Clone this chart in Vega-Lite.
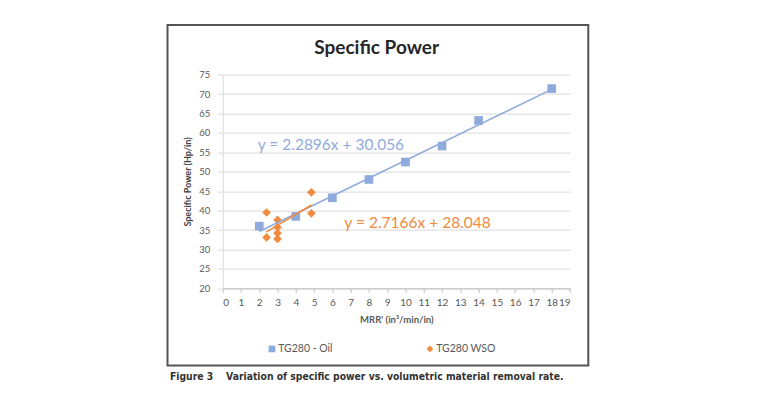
{
 "$schema": "https://vega.github.io/schema/vega-lite/v6.json",
 "autosize": {"type": "none"},
 "width": 347.3,
 "height": 213.7,
 "padding": {"left": 222.7, "top": 74.6, "right": 190, "bottom": 121.7},
 "background": "white",
 "config": {"view": {"stroke": null}, "font": "Lato",
  "axisX": {"grid": false, "domainColor": "#BFBFBF", "tickColor": "#BFBFBF", "tickSize": 4, "labelOverlap": false,
      "labelFont": "Lato", "labelFontSize": 10, "labelColor": "#595959", "labelPadding": 5,
      "titleFont": "Lato", "titleFontSize": 9.5, "titleFontWeight": "bold", "titleColor": "#595959", "titlePadding": 7},
  "axisY": {"grid": true, "gridColor": "#D9D9D9", "domainColor": "#D9D9D9", "tickColor": "#D9D9D9", "tickSize": 5, "labelOverlap": false,
      "labelFont": "Lato", "labelFontSize": 9.5, "labelColor": "#595959", "labelPadding": 8,
      "titleFont": "Lato", "titleFontSize": 9, "titleFontWeight": "bold", "titleColor": "#404040", "titlePadding": 6}
 },
 "datasets": {
  "points": [
   {"series": "TG280 - Oil", "mrr": 2, "power": 36.0},
   {"series": "TG280 - Oil", "mrr": 4, "power": 38.5},
   {"series": "TG280 - Oil", "mrr": 6, "power": 43.3},
   {"series": "TG280 - Oil", "mrr": 8, "power": 48.0},
   {"series": "TG280 - Oil", "mrr": 10, "power": 52.5},
   {"series": "TG280 - Oil", "mrr": 12, "power": 56.6},
   {"series": "TG280 - Oil", "mrr": 14, "power": 63.2},
   {"series": "TG280 - Oil", "mrr": 18, "power": 71.4},
   {"series": "TG280 WSO", "mrr": 2.4, "power": 39.5},
   {"series": "TG280 WSO", "mrr": 2.4, "power": 33.1},
   {"series": "TG280 WSO", "mrr": 3, "power": 37.6},
   {"series": "TG280 WSO", "mrr": 3, "power": 35.7},
   {"series": "TG280 WSO", "mrr": 3, "power": 34.2},
   {"series": "TG280 WSO", "mrr": 3, "power": 32.7},
   {"series": "TG280 WSO", "mrr": 4.85, "power": 44.7},
   {"series": "TG280 WSO", "mrr": 4.85, "power": 39.3}
  ]
 },
 "layer": [
  {
   "data": {"name": "points"},
   "mark": {"type": "point", "filled": true, "opacity": 1, "size": 75},
   "encoding": {
    "x": {"field": "mrr", "type": "quantitative",
     "scale": {"domain": [0, 19], "nice": false, "zero": false},
     "axis": {"title": "MRR' (in³/min/in)", "values": [0,1,2,3,4,5,6,7,8,9,10,11,12,13,14,15,16,17,18,19], "tickCount": 20}},
    "y": {"field": "power", "type": "quantitative",
     "scale": {"domain": [20, 75], "nice": false, "zero": false},
     "axis": {"title": "Specific Power (Hp/in)", "values": [20,25,30,35,40,45,50,55,60,65,70,75], "tickCount": 12}},
    "color": {"field": "series", "type": "nominal",
     "scale": {"domain": ["TG280 - Oil", "TG280 WSO"], "range": ["#8FAADC", "#F08A3C"]},
     "legend": {"orient": "none", "legendX": 44, "legendY": 269, "direction": "horizontal", "title": null,
      "columnPadding": 92, "symbolSize": 45, "labelFont": "Lato", "labelFontSize": 10.5, "labelColor": "#595959",
      "labelOffset": 1, "padding": 0, "symbolStrokeWidth": 0}},
    "shape": {"field": "series", "type": "nominal",
     "scale": {"domain": ["TG280 - Oil", "TG280 WSO"], "range": ["square", "diamond"]},
     "legend": {"orient": "none", "legendX": 44, "legendY": 269, "direction": "horizontal", "title": null,
      "columnPadding": 92, "symbolSize": 45, "labelFont": "Lato", "labelFontSize": 10.5, "labelColor": "#595959",
      "labelOffset": 1, "padding": 0, "symbolStrokeWidth": 0}}
   }
  },
  {
   "data": {"name": "points"},
   "transform": [
    {"filter": "datum.series === 'TG280 - Oil'"},
    {"regression": "power", "on": "mrr"}
   ],
   "mark": {"type": "line", "color": "#8FAADC", "strokeWidth": 1.6},
   "encoding": {
    "x": {"field": "mrr", "type": "quantitative", "axis": {"title": "MRR' (in³/min/in)", "values": [0,1,2,3,4,5,6,7,8,9,10,11,12,13,14,15,16,17,18,19], "tickCount": 20}},
    "y": {"field": "power", "type": "quantitative", "axis": {"title": "Specific Power (Hp/in)", "values": [20,25,30,35,40,45,50,55,60,65,70,75], "tickCount": 12}}
   }
  },
  {
   "data": {"name": "points"},
   "transform": [
    {"filter": "datum.series === 'TG280 WSO'"},
    {"regression": "power", "on": "mrr"}
   ],
   "mark": {"type": "line", "color": "#F08A3C", "strokeWidth": 1.6},
   "encoding": {
    "x": {"field": "mrr", "type": "quantitative", "axis": {"title": "MRR' (in³/min/in)", "values": [0,1,2,3,4,5,6,7,8,9,10,11,12,13,14,15,16,17,18,19], "tickCount": 20}},
    "y": {"field": "power", "type": "quantitative", "axis": {"title": "Specific Power (Hp/in)", "values": [20,25,30,35,40,45,50,55,60,65,70,75], "tickCount": 12}}
   }
  },
  {
   "data": {"values": [{}]},
   "mark": {"type": "rect", "fill": null, "stroke": "#555555", "strokeWidth": 2},
   "encoding": {
    "x": {"datum": -3.02, "type": "quantitative", "axis": {"title": "MRR' (in³/min/in)", "values": [0,1,2,3,4,5,6,7,8,9,10,11,12,13,14,15,16,17,18,19], "tickCount": 20}},
    "x2": {"datum": 20.0},
    "y": {"datum": 87.76, "type": "quantitative", "axis": {"title": "Specific Power (Hp/in)", "values": [20,25,30,35,40,45,50,55,60,65,70,75], "tickCount": 12}},
    "y2": {"datum": 0.13}
   }
  },
  {
   "data": {"values": [{"label": "Specific Power"}]},
   "mark": {"type": "text", "font": "Lato", "fontSize": 19, "fontWeight": "bold", "color": "#262626", "align": "center", "baseline": "middle"},
   "encoding": {
    "x": {"datum": 8.42, "type": "quantitative", "axis": {"title": "MRR' (in³/min/in)", "values": [0,1,2,3,4,5,6,7,8,9,10,11,12,13,14,15,16,17,18,19], "tickCount": 20}},
    "y": {"datum": 81.84, "type": "quantitative", "axis": {"title": "Specific Power (Hp/in)", "values": [20,25,30,35,40,45,50,55,60,65,70,75], "tickCount": 12}},
    "text": {"field": "label"}
   }
  },
  {
   "data": {"values": [{"label": "y = 2.2896x + 30.056"}]},
   "mark": {"type": "text", "font": "Lato", "fontSize": 15.5, "color": "#8FAADC", "align": "center", "baseline": "middle"},
   "encoding": {
    "x": {"datum": 5.92, "type": "quantitative", "axis": {"title": "MRR' (in³/min/in)", "values": [0,1,2,3,4,5,6,7,8,9,10,11,12,13,14,15,16,17,18,19], "tickCount": 20}},
    "y": {"datum": 56.9, "type": "quantitative", "axis": {"title": "Specific Power (Hp/in)", "values": [20,25,30,35,40,45,50,55,60,65,70,75], "tickCount": 12}},
    "text": {"field": "label"}
   }
  },
  {
   "data": {"values": [{"label": "y = 2.7166x + 28.048"}]},
   "mark": {"type": "text", "font": "Lato", "fontSize": 15.5, "color": "#F08A3C", "align": "center", "baseline": "middle"},
   "encoding": {
    "x": {"datum": 10.66, "type": "quantitative", "axis": {"title": "MRR' (in³/min/in)", "values": [0,1,2,3,4,5,6,7,8,9,10,11,12,13,14,15,16,17,18,19], "tickCount": 20}},
    "y": {"datum": 36.7, "type": "quantitative", "axis": {"title": "Specific Power (Hp/in)", "values": [20,25,30,35,40,45,50,55,60,65,70,75], "tickCount": 12}},
    "text": {"field": "label"}
   }
  },
  {
   "data": {"values": [{"label": "Figure 3\u00a0\u00a0\u00a0\u00a0Variation of specific power vs. volumetric material removal rate."}]},
   "mark": {"type": "text", "font": "DejaVu Sans Condensed", "fontSize": 10.3, "fontWeight": "bold", "color": "#333333", "align": "left", "baseline": "alphabetic"},
   "encoding": {
    "x": {"datum": -2.886, "type": "quantitative", "axis": {"title": "MRR' (in³/min/in)", "values": [0,1,2,3,4,5,6,7,8,9,10,11,12,13,14,15,16,17,18,19], "tickCount": 20}},
    "y": {"datum": -3.6, "type": "quantitative", "axis": {"title": "Specific Power (Hp/in)", "values": [20,25,30,35,40,45,50,55,60,65,70,75], "tickCount": 12}},
    "text": {"field": "label"}
   }
  }
 ]
}
